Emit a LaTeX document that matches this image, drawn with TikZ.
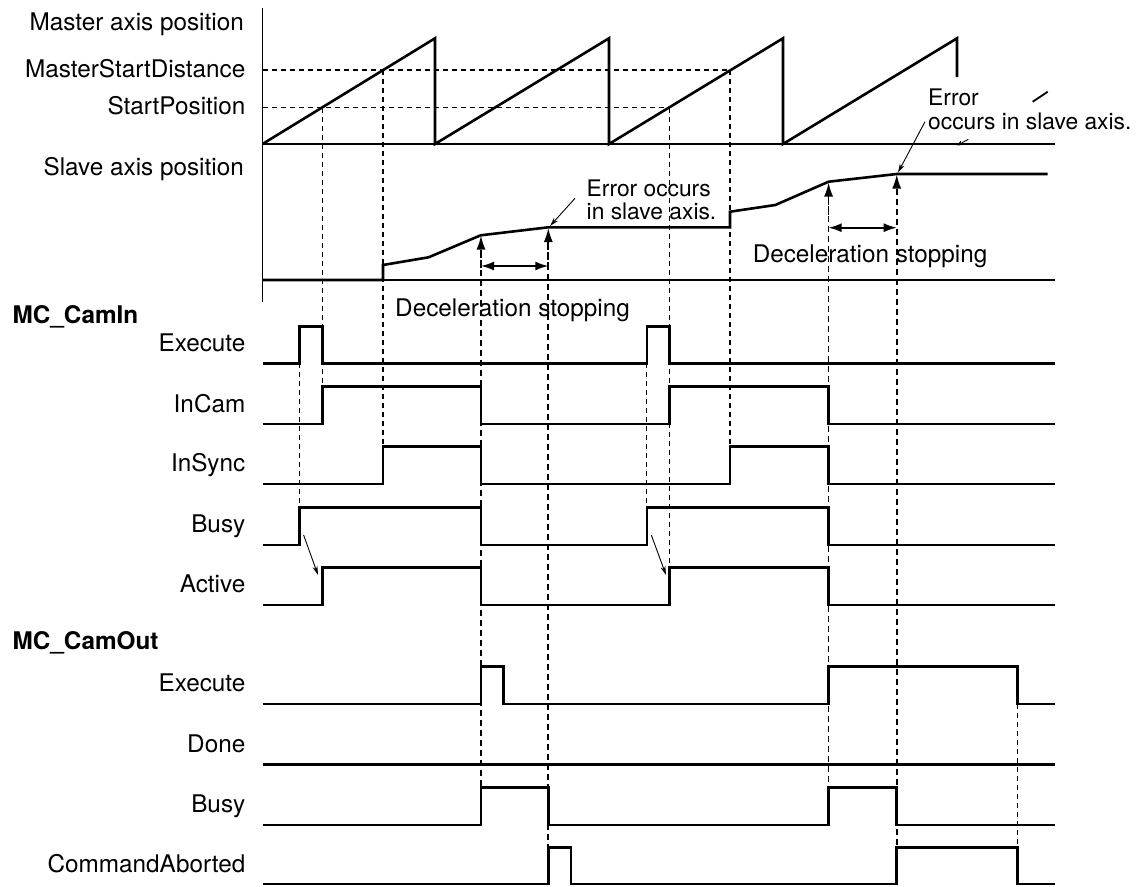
\documentclass[tikz,border=0pt]{standalone}
\usepackage{fontspec}
\setmainfont{TeX Gyre Heros}
\usetikzlibrary{arrows.meta}
\begin{document}
\begin{tikzpicture}[x=1pt,y=-1pt,
  sig/.style={line width=2.6pt, line join=miter},
  baseln/.style={line width=1.8pt},
  guide/.style={line width=1.3pt, dash pattern=on 5pt off 4pt},
  guideb/.style={line width=1.7pt, dash pattern=on 6pt off 4pt},
  lbl/.style={inner sep=0pt, anchor=base east, font=\fontsize{24.3}{27}\selectfont},
  txt/.style={inner sep=0pt, anchor=base west, font=\fontsize{24.3}{27}\selectfont},
  note/.style={inner sep=0pt, anchor=base west, font=\fontsize{22.8}{26}\selectfont},
  ttl/.style={inner sep=0pt, anchor=base west, font=\fontsize{24.3}{27}\selectfont\bfseries},
  ptr/.style={line width=0.9pt, -{Stealth[length=9pt,width=5pt]}},
  uparr/.style={guideb, -{Latex[length=14pt,width=9pt]}},
  dbl/.style={line width=1.6pt, {Latex[length=13pt,width=9pt]}-{Latex[length=13pt,width=9pt]}}]
\useasboundingbox (0,0) rectangle (1137,886);

% ---------- labels ----------
\node[lbl] (lmap) at (244,30.7) {Master axis position};
\node[lbl] (lmsd) at (245.5,77.3) {MasterStartDistance};
\node[lbl] (lsp)  at (245.5,114) {StartPosition};
\node[lbl] (lsap) at (244,175) {Slave axis position};
\node[ttl] (tin)  at (12.5,323.3) {MC\_CamIn};
\node[lbl] (lex1) at (245.5,351) {Execute};
\node[lbl] (linc) at (245.5,412.3) {InCam};
\node[lbl] (lins) at (245.5,471.7) {InSync};
\node[lbl] (lbu1) at (245.5,532.7) {Busy};
\node[lbl] (lact) at (245.5,592.7) {Active};
\node[ttl] (tout) at (12.5,649.3) {MC\_CamOut};
\node[lbl] (lex2) at (245.5,691.7) {Execute};
\node[lbl] (ldon) at (245.5,752.7) {Done};
\node[lbl] (lbu2) at (245.5,812.7) {Busy};
\node[lbl] (lcab) at (245.5,872.7) {CommandAborted};

\node[note] (e1a) at (586.5,196) {Error occurs};
\node[note] (e1b) at (586.5,219.3) {in slave axis.};
\node[note] (e2a) at (928,105) {Error};
\node[note] (e2b) at (928,129.3) {occurs in slave axis.};
\node[txt, anchor=base] (dec1) at (512.5,316) {Deceleration stopping};
\node[txt, anchor=base] (dec2) at (870,262.7) {Deceleration stopping};

% ---------- dashed guides ----------
\draw[guide] (262.5,70) -- (730,70);
\draw[guide] (262.5,107.7) -- (669.7,107.7);
\draw[guide] (322.5,107.7) -- (322.5,386.7);
\draw[guide] (299.3,363.3) -- (299.3,507.3);
\draw[guide] (383,70) -- (383,446.7);
\draw[guide] (669.7,107.7) -- (669.7,567.3);
\draw[guide] (646.8,363.3) -- (646.8,507.3);
\draw[guide] (730,70) -- (730,446.7);
\draw[guideb] (481,250) -- (481,787.3);
\draw[guideb] (548.3,244) -- (548.3,847.3);
\draw[guideb] (828.6,196) -- (828.6,787.3);
\draw[guideb] (896.7,189) -- (896.7,847.3);
\draw[guide] (1017.4,704) -- (1017.4,847.3);

% ---------- axes ----------
\draw[baseln] (262.5,8) -- (262.5,301.7);
\draw[baseln] (262.5,144) -- (1055,144);
\draw[baseln] (262.5,280) -- (1055,280);

% ---------- master ----------
\draw[sig] (262.5,144) -- (435,38.3) -- (435,144) -- (609,38.3) -- (609,144)
  -- (783,38.3) -- (783,144) -- (957,38.3) -- (957,77);

% ---------- slave ----------
\draw[sig] (262.5,280) -- (383,280) -- (383,265) -- (428.6,257.3) -- (480.7,235.3)
  -- (548.3,227.3) -- (730,227.3) -- (730,211.7) -- (775.3,205) -- (828.6,181.7)
  -- (896.7,174) -- (1047.6,174);

% ---------- arrows on slave ----------
\coordinate (u1) at (481,235.5);
\coordinate (u1b) at (481,268);
\coordinate (u2) at (548.3,228);
\coordinate (u2b) at (548.3,268);
\coordinate (u3) at (828.6,182.5);
\coordinate (u3b) at (828.6,215);
\coordinate (u4) at (896.7,174.5);
\coordinate (u4b) at (896.7,215);
\draw[uparr] (u1b) -- (u1);
\draw[uparr] (u2b) -- (u2);
\draw[uparr] (u3b) -- (u3);
\draw[uparr] (u4b) -- (u4);
\coordinate (d1a) at (481,266);
\coordinate (d1b) at (548.3,266);
\coordinate (d2a) at (828.6,227.7);
\coordinate (d2b) at (896.7,227.7);
\draw[dbl] (d1a) -- (d1b);
\draw[dbl] (d2a) -- (d2b);

\coordinate (p1s) at (575,198.3);
\coordinate (p1e) at (550,226);
\draw[ptr] (p1s) -- (p1e);
\coordinate (p2s) at (925,121.7);
\coordinate (p2e) at (898,172.5);
\draw[ptr] (p2s) -- (p2e);
\draw[line width=1.8pt] (1032.7,101.7) -- (1047.7,91.7);
\coordinate (q1) at (968.3,139.3);
\coordinate (q2) at (957,145.5);
\draw[line width=0.9pt, -{Stealth[length=6pt,width=5pt]}] (q1) -- (q2);

% ---------- MC_CamIn ----------
\draw[sig] (262.5,363.3) -| (299.3,326.7) -| (322.5,363.3) -| (646.8,326.7) -| (669.7,363.3) -- (1055,363.3);
\draw[sig] (262.5,424) -| (322.5,386.7) -| (481,424) -| (669.7,386.7) -| (828.6,424) -- (1055,424);
\draw[sig] (262.5,484) -| (383,446.7) -| (481,484) -| (730,446.7) -| (828.6,484) -- (1055,484);
\draw[sig] (262.5,545) -| (299.3,507.3) -| (481,545) -| (646.8,507.3) -| (828.6,545) -- (1055,545);
\draw[sig] (262.5,605) -| (322.5,567.3) -| (481,605) -| (669.7,567.3) -| (828.6,605) -- (1055,605);
\coordinate (a1s) at (303.6,535);
\coordinate (a1e) at (318,575);
\coordinate (a2s) at (651.3,535);
\coordinate (a2e) at (666,575);
\draw[ptr] (a1s) -- (a1e);
\draw[ptr] (a2s) -- (a2e);

% ---------- MC_CamOut ----------
\draw[sig] (262.5,704) -| (481,666.7) -| (503.6,704) -| (828.6,666.7) -| (1017.4,704) -- (1055,704);
\draw[sig] (262.5,764.3) -- (1055,764.3);
\draw[sig] (262.5,825) -| (481,787.3) -| (548.3,825) -| (828.6,787.3) -| (896.7,825) -- (1055,825);
\draw[sig] (262.5,884) -| (548.3,847.3) -| (571,884) -| (896.7,847.3) -| (1017.4,884) -- (1055,884);
\end{tikzpicture}
\end{document}
